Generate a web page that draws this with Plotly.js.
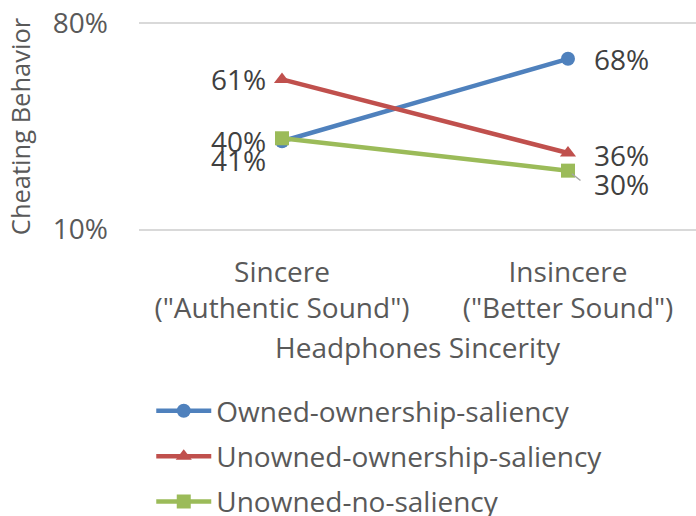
<!DOCTYPE html>
<html><head><meta charset="utf-8">
<script src="https://cdn.plot.ly/plotly-3.0.1.min.js"></script>
<style>html,body{margin:0;padding:0;background:#fff}#chart{width:696px;height:516px}</style>
</head><body><div id="chart"></div>
<script>
const categories = ['Sincere<br>("Authentic Sound")', 'Insincere<br>("Better Sound")'];
const seriesNames = ['Owned-ownership-saliency', 'Unowned-ownership-saliency', 'Unowned-no-saliency'];
const ownedSaliency = [40, 68];
const unownedSaliency = [61, 36];
const unownedNoSaliency = [41, 30];
const yTicks = [10, 80];

const colors = ['#4f81bd', '#c0504d', '#9bbb59'];
const symbols = ['circle', 'triangle-up', 'square'];
const series = [ownedSaliency, unownedSaliency, unownedNoSaliency];
const FONT = '"Open Sans", sans-serif';
const TXT = '#595959';

const traces = series.map((vals, i) => ({
  type: 'scatter', mode: 'lines+markers', x: categories, y: vals, name: seriesNames[i],
  line: {color: colors[i], width: 4.5},
  marker: {color: colors[i], symbol: symbols[i], size: 14},
  legendgroup: 'g' + i, cliponaxis: false
}));

// label offsets per series per point [xshift, yshift]
const offs = [
  [[-14, 0], [24, 0]],
  [[-14, 0], [24, -2]],
  [[-14, -22], [24, -13]]
];
const annotations = [];
series.forEach((vals, i) => {
  vals.forEach((v, j) => {
    annotations.push({
      x: categories[j], y: v, xref: 'x', yref: 'y', text: v + '%', showarrow: false,
      xanchor: j === 0 ? 'right' : 'left', yanchor: 'middle',
      xshift: offs[i][j][0], yshift: offs[i][j][1],
      font: {family: FONT, size: 28, color: '#404040'}
    });
  });
});
// leader line for the moved "30%" label
annotations.push({
  x: categories[1], y: unownedNoSaliency[1], xref: 'x', yref: 'y', text: '',
  showarrow: true, arrowhead: 0, arrowwidth: 1.5, arrowcolor: '#a6a6a6',
  ax: 14, ay: 11, standoff: 5
});

const layout = {
  width: 696, height: 516,
  margin: {l: 139, r: 0, t: 22, b: 285, autoexpand: false},
  paper_bgcolor: '#fff', plot_bgcolor: '#fff',
  font: {family: FONT, color: TXT, size: 28},
  showlegend: true,
  legend: {x: 0.022, xanchor: 'left', y: -0.742, yanchor: 'top', orientation: 'v',
    traceorder: 'grouped', tracegroupgap: 6, itemwidth: 55,
    font: {family: FONT, size: 28, color: TXT}, bgcolor: 'rgba(0,0,0,0)'},
  xaxis: {type: 'category', range: [-0.5, 1.4476], showgrid: false, zeroline: false,
    showline: false, ticks: '', ticklabelstandoff: 22, automargin: false,
    tickfont: {family: FONT, size: 28, color: TXT},
    title: {text: 'Headphones Sincerity', font: {family: FONT, size: 28, color: TXT}, standoff: 12}},
  yaxis: {range: [9.5, 80.5], tickvals: yTicks, ticktext: yTicks.map(v => v + '%'),
    showgrid: true, gridcolor: '#d9d9d9', gridwidth: 2, zeroline: false, showline: false,
    ticks: '', ticklabelstandoff: 30, automargin: false, tickfont: {family: FONT, size: 28, color: TXT},
    title: {text: 'Cheating Behavior', font: {family: FONT, size: 25.5, color: TXT}, standoff: 14}},
  annotations: annotations
};
Plotly.newPlot('chart', traces, layout, {displayModeBar: false, staticPlot: true});
</script></body></html>
